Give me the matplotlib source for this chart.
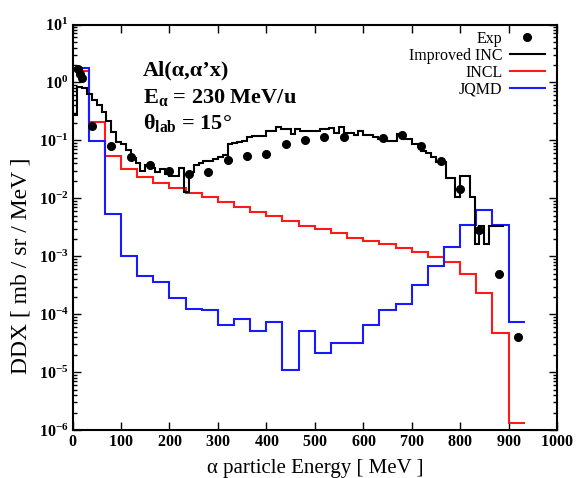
import numpy as np
import matplotlib
matplotlib.use("Agg")
import matplotlib.pyplot as plt
from matplotlib.ticker import FixedLocator, LogLocator, NullFormatter, FixedFormatter
from matplotlib.lines import Line2D

plt.rcParams['font.family'] = ['Liberation Serif', 'DejaVu Serif']
plt.rcParams['mathtext.fontset'] = 'custom'
plt.rcParams['mathtext.rm'] = 'Liberation Serif:bold'
plt.rcParams['mathtext.it'] = 'Liberation Serif:bold'
plt.rcParams['mathtext.bf'] = 'Liberation Serif:bold'

# ---------------- data ----------------
# Experimental points
exp_energy = [12, 16, 20, 40, 80, 120, 160, 200, 240, 280, 320, 360, 400, 440,
               480, 520, 560, 640, 680, 720, 760, 800, 840, 880, 920]
exp_ddx = [1.7, 1.4, 1.2, 0.175, 0.079, 0.051, 0.038, 0.030, 0.026, 0.029, 0.045,
           0.054, 0.058, 0.087, 0.102, 0.116, 0.113, 0.108, 0.125, 0.080, 0.044,
           0.0146, 0.0028, 5.0e-4, 4.1e-5]

# Improved INC (10 MeV bins starting at 0)
inc_bin_width = 10
inc_ddx = [0.27, 0.84, 0.80, 0.62, 0.50, 0.40, 0.31, 0.22, 0.14, 0.095,
           0.087, 0.068, 0.050, 0.040, 0.030, 0.037, 0.033, 0.029, 0.032, 0.026,
           0.024, 0.024, 0.034, 0.013, 0.028, 0.038, 0.040, 0.044, 0.044, 0.048,
           0.051, 0.055, 0.085, 0.089, 0.095, 0.099, 0.116, 0.120, 0.120, 0.120,
           0.147, 0.147, 0.172, 0.157, 0.157, 0.130, 0.157, 0.143, 0.143, 0.143,
           0.143, 0.160, 0.157, 0.165, 0.133, 0.172, 0.133, 0.133, 0.126, 0.147,
           0.126, 0.126, 0.116, 0.106, 0.106, 0.096, 0.096, 0.130, 0.106, 0.106,
           0.087, 0.087, 0.066, 0.060, 0.051, 0.042, 0.042, 0.022, 0.022, 0.0107,
           0.0246, 0.0246, 0.0106, 0.0016, 0.0033, 0.0016, 0.0033, 0.0033, 0.0033]

# INCL and JQMD (33.3 MeV bins, 0 - 933 MeV)
model_emax = 933.33
incl_ddx = [1.59, 0.205, 0.053, 0.032, 0.023, 0.0185, 0.0149, 0.0124, 0.0104, 0.0086,
            0.0071, 0.0059, 0.0049, 0.0040, 0.0033, 0.0029, 0.0025, 0.0021, 0.0018,
            0.0016, 0.00138, 0.00118, 0.00098, 8.0e-4, 5.0e-4, 2.3e-4, 4.8e-5, 1.3e-6]
jqmd_ddx = [1.77, 0.096, 5.3e-3, 1.0e-3, 4.5e-4, 3.6e-4, 1.9e-4, 1.25e-4, 1.2e-4, 6.5e-5,
            8.4e-5, 5.2e-5, 7.2e-5, 1.07e-5, 5.2e-5, 2.1e-5, 3.2e-5, 3.2e-5, 6.5e-5,
            1.2e-4, 1.48e-4, 3.2e-4, 6.8e-4, 1.45e-3, 3.5e-3, 6.3e-3, 3.5e-3, 7.3e-5]

x_ticks = [0, 100, 200, 300, 400, 500, 600, 700, 800, 900, 1000]
y_exponents = [-6, -5, -4, -3, -2, -1, 0, 1]

# ---------------- plot ----------------
fig = plt.figure(figsize=(5.76, 4.78), dpi=100)
ax = fig.add_axes([0.126, 0.1004, 0.841, 0.8483])

inc_edges = np.arange(len(inc_ddx) + 1) * inc_bin_width
model_edges = np.linspace(0, model_emax, len(incl_ddx) + 1)

lw = 1.5
ax.stairs(inc_ddx, inc_edges, baseline=None, color='black', lw=lw, zorder=3)
ax.stairs(incl_ddx, model_edges, baseline=None, color='#ff1a1a', lw=lw, zorder=2)
ax.stairs(jqmd_ddx, model_edges, baseline=None, color='#1a1aff', lw=lw, zorder=2)
ax.plot(exp_energy, exp_ddx, 'o', color='black', ms=5.5, zorder=4)

ax.set_yscale('log')
ax.set_xlim(0, 1000)
ax.set_ylim(1e-6, 1e1)

ax.xaxis.set_major_locator(FixedLocator(x_ticks))
ax.xaxis.set_major_formatter(FixedFormatter([r'$%d$' % t for t in x_ticks]))
ax.yaxis.set_major_locator(FixedLocator([10.0 ** e for e in y_exponents]))
ax.yaxis.set_major_formatter(FixedFormatter([r'$10^{%d}$' % e for e in y_exponents]))
ax.yaxis.set_minor_locator(LogLocator(base=10, subs=np.arange(2, 10), numticks=20))
ax.yaxis.set_minor_formatter(NullFormatter())

ax.tick_params(which='both', direction='in', top=True, right=True, labelsize=11.5,
               width=1.0, pad=3)
ax.tick_params(which='major', length=6)
ax.tick_params(which='minor', length=3)
for sp in ax.spines.values():
    sp.set_linewidth(1.5)

ax.set_xlabel('α particle Energy [ MeV ]', fontsize=15, labelpad=6)
ax.set_ylabel('DDX [ mb / sr / MeV ]', fontsize=17)
ax.yaxis.set_label_coords(-0.085, 0.405)

# annotation block
tx = 0.145
ax.text(tx, 0.887, 'Al(α,α’x)', transform=ax.transAxes, fontsize=16,
        fontweight='bold', va='center', ha='left')
ax.text(tx, 0.820, r'$\mathrm{E_{α}}$ = 230 MeV/u', transform=ax.transAxes, fontsize=16,
        fontweight='bold', va='center', ha='left')
ax.text(tx, 0.757, r'θ$_{\mathrm{lab}}$ = 15°', transform=ax.transAxes, fontsize=16,
        fontweight='bold', va='center', ha='left')

handles = [Line2D([], [], ls='none', marker='o', color='black', ms=5.5),
           Line2D([], [], color='black', lw=lw),
           Line2D([], [], color='#ff1a1a', lw=lw),
           Line2D([], [], color='#1a1aff', lw=lw)]
labels = ['Exp', 'Improved INC', 'INCL', 'JQMD']
ax.legend(handles, labels, loc='upper right', frameon=False, markerfirst=False,
          fontsize=11.5, handlelength=2.2, handletextpad=0.45, labelspacing=0.05,
          borderaxespad=0.0, bbox_to_anchor=(0.988, 1.0))

fig.savefig('out.png', dpi=100)
